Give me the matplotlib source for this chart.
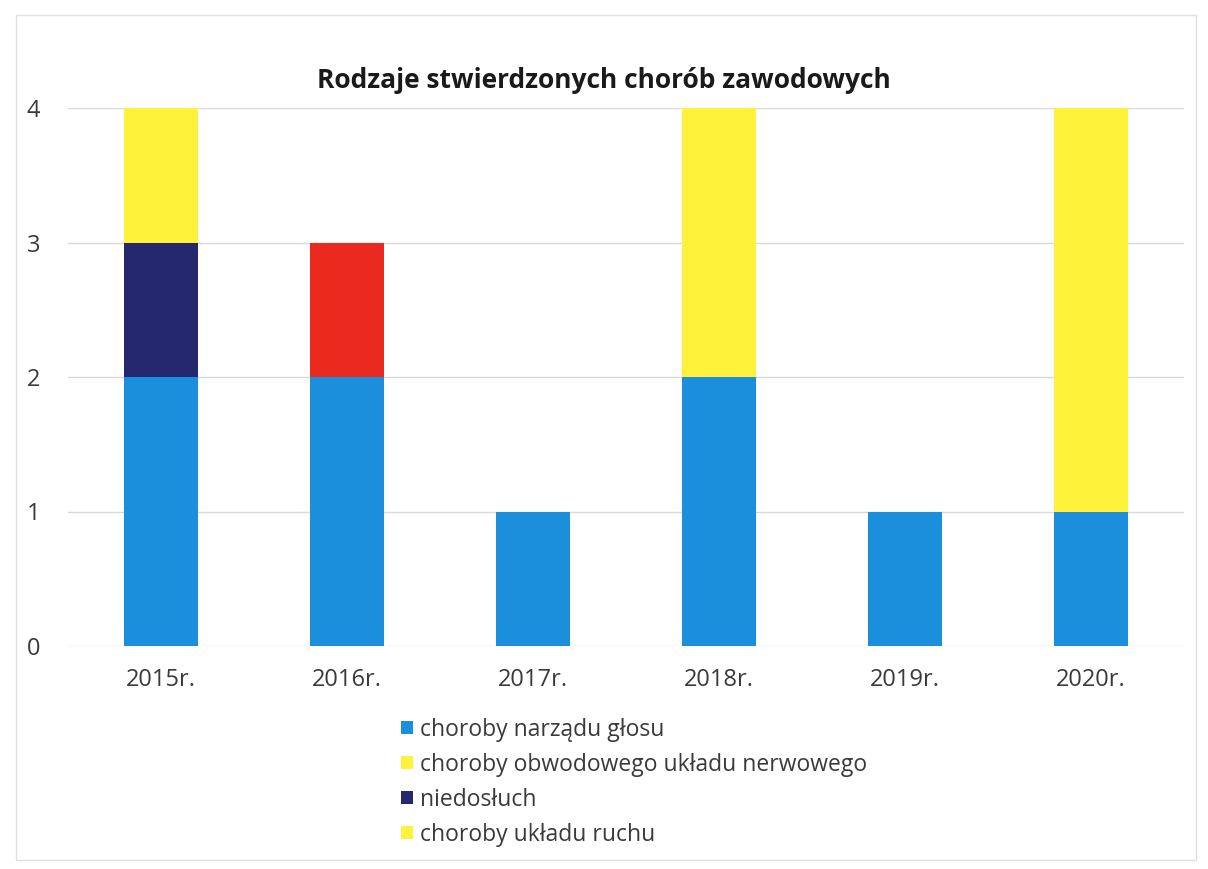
import matplotlib
matplotlib.use("Agg")
import matplotlib.pyplot as plt
import numpy as np
from matplotlib.patches import Rectangle

years = ["2015r.", "2016r.", "2017r.", "2018r.", "2019r.", "2020r."]
glos = [2, 2, 1, 2, 1, 1]
obwodowy = [0, 0, 0, 2, 0, 3]
niedosluch = [1, 0, 0, 0, 0, 0]
ruch = [1, 0, 0, 0, 0, 0]
inne = [0, 1, 0, 0, 0, 0]

series = [
    ("choroby narządu głosu", glos, "#1b8fdc"),
    ("choroby obwodowego układu nerwowego", obwodowy, "#fff23a"),
    ("niedosłuch", niedosluch, "#25286e"),
    ("choroby układu ruchu", ruch, "#fff23a"),
    ("_inne", inne, "#ea2a1f"),
]

plt.rcParams['font.family'] = ['Open Sans', 'DejaVu Sans']

fig = plt.figure(figsize=(12.08, 8.69), dpi=100)
ax = fig.add_axes([68/1208, 1-646/869, 1116/1208, 538/869])

x = np.arange(len(years))
bottom = np.zeros(len(years))
handles = []
for name, vals, col in series:
    vals = np.array(vals, dtype=float)
    b = ax.bar(x, vals, 0.4, bottom=bottom, color=col, label=name, zorder=3)
    if not name.startswith("_"):
        handles.append(b)
    bottom += vals

ax.set_xlim(-0.5, len(years) - 0.5)
ax.set_ylim(0, 4)
ax.set_yticks([0, 1, 2, 3, 4])
ax.set_xticks(x)
ax.set_xticklabels(years)
ax.tick_params(axis='both', length=0, labelsize=17, colors="#3a3a3a")
ax.tick_params(axis='x', pad=16)
ax.tick_params(axis='y', pad=20)
ax.grid(axis='y', color="#d9d9d9", linewidth=1, zorder=0)
for s in ax.spines.values():
    s.set_visible(False)

fig.text(0.5, 1-80/869, "Rodzaje stwierdzonych chorób zawodowych",
         ha='center', va='center', fontsize=19, fontweight='bold', color="#1a1a1a")

fig.legend(handles=handles, labels=[h.get_label() for h in handles],
           loc='upper left', bbox_to_anchor=(380/1208, 1-697/869),
           frameon=False, fontsize=16.5, handlelength=0.55, handleheight=0.55,
           handletextpad=0.3, labelspacing=0.48, labelcolor="#3a3a3a")

fig.patches.append(Rectangle((16/1208, 1-860/869), 1180/1208, 845/869,
                             transform=fig.transFigure, fill=False,
                             edgecolor="#e0e0e0", linewidth=1))

fig.savefig("out.png", dpi=100, facecolor="white")
